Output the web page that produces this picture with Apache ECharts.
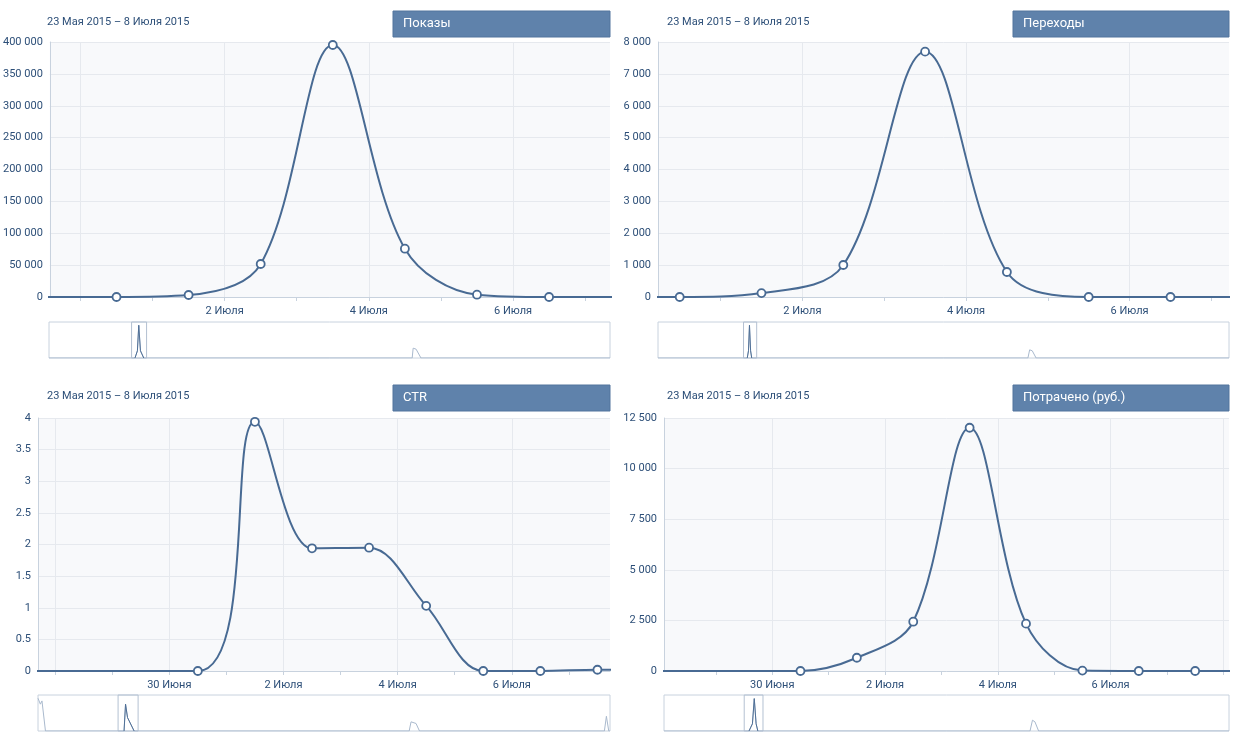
<!DOCTYPE html>
<html>
<head>
<meta charset="utf-8">
<script src="https://cdn.jsdelivr.net/npm/echarts@6/dist/echarts.min.js"></script>
<style>
html,body{margin:0;padding:0;background:#fff;}
#c{width:1240px;height:740px;}
</style>
</head>
<body>
<div id="c"></div>
<script>
// ================= DATA =================
const periodStart = '2015-05-23';
const periodEnd = '2015-07-08';
const panelTitles = ['Показы', 'Переходы', 'CTR', 'Потрачено (руб.)'];
const monthNames = ['Января','Февраля','Марта','Апреля','Мая','Июня','Июля','Августа','Сентября','Октября','Ноября','Декабря'];

// daily points (plotted at noon)
const pointDates = ['2015-05-23','2015-06-30','2015-07-01','2015-07-02','2015-07-03','2015-07-04','2015-07-05','2015-07-06','2015-07-07','2015-07-08'];
const impressions = [0, 0, 3100, 51800, 395300, 75800, 3600, 0, 0, 0];
const clicks      = [0, 0, 122, 1004, 7697, 785, 0, 0, 0, 0];
const ctr         = [0, 0, 3.94, 1.94, 1.95, 1.03, 0, 0, 0.02, 0];
const spent       = [0, 0, 655, 2436, 12018, 2340, 20, 0, 0, 0];

// y-axis ticks
const yTicksImpressions = [0, 50000, 100000, 150000, 200000, 250000, 300000, 350000, 400000];
const yTicksClicks      = [0, 1000, 2000, 3000, 4000, 5000, 6000, 7000, 8000];
const yTicksCtr         = [0, 0.5, 1, 1.5, 2, 2.5, 3, 3.5, 4];
const yTicksSpent       = [0, 2500, 5000, 7500, 10000, 12500];

// x-axis: gridlines, daily ticks, labels
const gridDates = ['2015-06-28','2015-06-30','2015-07-02','2015-07-04','2015-07-06','2015-07-08'];
const tickDates = ['2015-06-27','2015-06-28','2015-06-29','2015-06-30','2015-07-01','2015-07-02','2015-07-03','2015-07-04','2015-07-05','2015-07-06','2015-07-07','2015-07-08'];
const labelDatesTop    = ['2015-07-02','2015-07-04','2015-07-06'];
const labelDatesBottom = ['2015-06-30','2015-07-02','2015-07-04','2015-07-06'];

// visible range of every panel
const viewImpressions = ['2015-06-29 13:48', '2015-07-07 08:17'];
const viewClicks      = ['2015-06-30 05:38', '2015-07-07 05:10'];
const viewCtr         = ['2015-06-27 16:48', '2015-07-07 17:17'];
const viewSpent       = ['2015-06-28 01:55', '2015-07-08 02:24'];

// navigator shapes: [days since 23 May, relative height]
const navImpressions = [[0,0],[7.05,0],[7.25,0.22],[7.36,1],[7.5,0.22],[7.77,0],[29.78,0],[29.86,0.3],[30.1,0.27],[30.5,0],[46,0]];
const navClicks      = [[0,0],[7.19,0],[7.29,0.22],[7.37,1],[7.46,0.22],[7.55,0],[29.8,0],[29.94,0.25],[30.15,0.22],[30.46,0],[46,0]];
const navCtr         = [[0,1],[0.19,0.82],[0.32,0.92],[0.6,0],[6.92,0],[7.04,0.82],[7.2,0.41],[7.33,0.36],[7.73,0],[29.85,0],[30.0,0.28],[30.4,0.23],[30.68,0],[45.55,0],[45.71,0.45],[45.9,0],[46,0]];
const navSpent       = [[0,0],[6.92,0],[7.2,0.22],[7.35,0.99],[7.5,0.22],[7.64,0],[29.8,0],[30.0,0.33],[30.2,0.28],[30.5,0],[46,0]];
// navigator selected windows [from, to] (days since 23 May)
const navWindowImpressions = [6.77, 8.0];
const navWindowClicks      = [6.89, 7.95];
const navWindowCtr         = [6.44, 8.05];
const navWindowSpent       = [6.53, 8.06];

// ================= HELPERS =================
function ts(s) {
  const parts = s.split(' ');
  const d = parts[0].split('-').map(Number);
  const t = (parts[1] || '00:00').split(':').map(Number);
  return Date.UTC(d[0], d[1] - 1, d[2], t[0], t[1]);
}
function dayLabel(v) {
  const d = new Date(v);
  return d.getUTCDate() + ' ' + monthNames[d.getUTCMonth()];
}
function fullDate(s) {
  const d = new Date(ts(s));
  return d.getUTCDate() + ' ' + monthNames[d.getUTCMonth()] + ' ' + d.getUTCFullYear();
}
function thousands(v) {
  return String(v).replace(/\B(?=(\d{3})+(?!\d))/g, ' ');
}

// ================= STYLE / LAYOUT =================
const FONT = 'Roboto, "Helvetica Neue", Arial, sans-serif';
const TXT = '#2d4f78';
const LINE = '#486a93';
const GRIDLINE = '#e6e9ee';
const AXISLINE = '#c8d2de';
const NAV_DARK = '#4f6f96';
const NAV_LIGHT = '#a9b9cd';

const layout = [
  {main:{left:49, top:42, width:561, height:255}, nav:{left:49, top:322, width:561, height:36}, dateX:47, dateY:22, box:{x:393, y:11, w:217, h:26}},
  {main:{left:658, top:42, width:571, height:255}, nav:{left:658, top:322, width:571, height:36}, dateX:667, dateY:22, box:{x:1013, y:11, w:216, h:26}},
  {main:{left:38, top:418, width:572, height:253}, nav:{left:38, top:695, width:572, height:36}, dateX:47, dateY:396, box:{x:393, y:385, w:217, h:26}},
  {main:{left:664, top:418, width:565, height:253}, nav:{left:664, top:695, width:565, height:36}, dateX:667, dateY:396, box:{x:1013, y:385, w:216, h:26}}
];

const panels = [
  {values: impressions, yTicks: yTicksImpressions, view: viewImpressions, labels: labelDatesTop, nav: navImpressions, win: navWindowImpressions, fmt: thousands},
  {values: clicks, yTicks: yTicksClicks, view: viewClicks, labels: labelDatesTop, nav: navClicks, win: navWindowClicks, fmt: thousands},
  {values: ctr, yTicks: yTicksCtr, view: viewCtr, labels: labelDatesBottom, nav: navCtr, win: navWindowCtr, fmt: v => String(v)},
  {values: spent, yTicks: yTicksSpent, view: viewSpent, labels: labelDatesBottom, nav: navSpent, win: navWindowSpent, fmt: thousands}
];

const grid = [], xAxis = [], yAxis = [], series = [], graphic = [];
const dateText = fullDate(periodStart) + ' – ' + fullDate(periodEnd);

panels.forEach((p, i) => {
  const L = layout[i];
  const gMain = grid.length;
  grid.push(Object.assign({show: true, backgroundColor: '#f8f9fb', borderWidth: 0}, L.main));
  const gNav = grid.length;
  grid.push(Object.assign({show: true, backgroundColor: '#fff', borderColor: '#c8d2de', borderWidth: 1}, L.nav));

  const xmin = ts(p.view[0]), xmax = ts(p.view[1]);
  const xA = xAxis.length;
  xAxis.push({
    type: 'value', gridIndex: gMain, position: 'bottom', min: xmin, max: xmax,
    axisLine: {show: true, onZero: false, lineStyle: {color: AXISLINE, width: 1}},
    axisTick: {show: false, customValues: gridDates.map(d => ts(d))},
    axisLabel: {customValues: p.labels.map(d => ts(d)), formatter: dayLabel, color: TXT, fontSize: 11, fontFamily: FONT, margin: 9},
    splitLine: {show: true, lineStyle: {color: GRIDLINE, width: 1}}
  });
  xAxis.push({
    type: 'value', gridIndex: gMain, position: 'bottom', min: xmin, max: xmax,
    axisLine: {show: false},
    axisTick: {show: true, customValues: tickDates.map(d => ts(d)), length: 4, lineStyle: {color: AXISLINE}},
    axisLabel: {show: false},
    splitLine: {show: false}
  });
  const xN = xAxis.length;
  xAxis.push({type: 'value', gridIndex: gNav, min: 0, max: 46, show: false});

  const yM = yAxis.length;
  const yt = p.yTicks;
  yAxis.push({
    type: 'value', gridIndex: gMain, min: yt[0], max: yt[yt.length - 1], interval: yt[1] - yt[0],
    axisLine: {show: true, onZero: false, lineStyle: {color: AXISLINE}},
    axisTick: {show: false},
    axisLabel: {formatter: p.fmt, color: TXT, fontSize: 11, fontFamily: FONT, margin: 7},
    splitLine: {show: true, lineStyle: {color: GRIDLINE, width: 1}}
  });
  const yN = yAxis.length;
  yAxis.push({type: 'value', gridIndex: gNav, min: 0, max: 1.1, show: false});

  series.push({
    type: 'line', xAxisIndex: xA, yAxisIndex: yM,
    data: pointDates.map((d, k) => [ts(d + ' 12:00'), p.values[k]]),
    smooth: 0.35, clip: true, showSymbol: true, showAllSymbol: true,
    symbol: 'circle', symbolSize: 8,
    lineStyle: {color: LINE, width: 2},
    itemStyle: {color: '#fff', borderColor: LINE, borderWidth: 1.8},
    z: 5, silent: true
  });
  series.push({
    type: 'line', xAxisIndex: xN, yAxisIndex: yN,
    data: p.nav, symbol: 'none', smooth: false,
    lineStyle: {color: NAV_LIGHT, width: 1},
    markArea: {silent: true, itemStyle: {color: 'rgba(0,0,0,0)', borderColor: '#b4c1d2', borderWidth: 1},
      data: [[{xAxis: p.win[0]}, {xAxis: p.win[1]}]]},
    silent: true
  });
  series.push({
    type: 'line', xAxisIndex: xN, yAxisIndex: yN,
    data: p.nav.filter(pt => pt[0] >= p.win[0] && pt[0] <= p.win[1]),
    symbol: 'none', smooth: false,
    lineStyle: {color: NAV_DARK, width: 1}, z: 3, silent: true
  });

  // header: date range + title box
  graphic.push({type: 'text', left: L.dateX, top: L.dateY - 5,
    style: {text: dateText, fill: TXT, font: '11px ' + FONT}});
  graphic.push({type: 'rect', shape: {x: L.box.x, y: L.box.y, width: L.box.w, height: L.box.h},
    style: {fill: '#5f82ab', stroke: '#52749d', lineWidth: 1}});
  graphic.push({type: 'text', x: L.box.x + 10, y: L.box.y + L.box.h / 2,
    style: {text: panelTitles[i], fill: '#fff', font: '13px ' + FONT, textVerticalAlign: 'middle', verticalAlign: 'middle'}});
});

const chart = echarts.init(document.getElementById('c'), null, {renderer: 'canvas'});
chart.setOption({
  animation: false,
  backgroundColor: '#fff',
  textStyle: {fontFamily: FONT},
  grid, xAxis, yAxis, series, graphic
});
</script>
</body>
</html>
